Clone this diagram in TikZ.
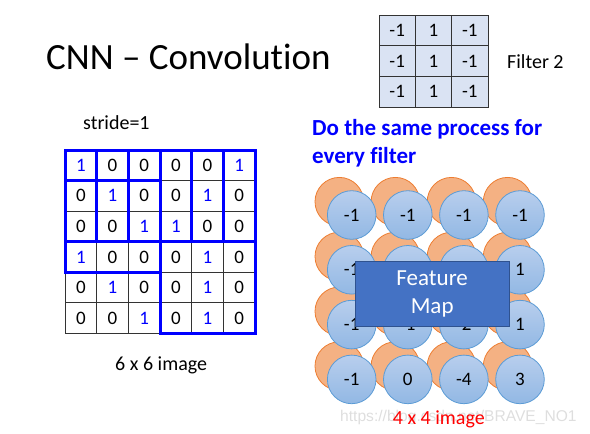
\documentclass[tikz,border=0pt]{standalone}
\usepackage{fontspec}
\setmainfont{Carlito}[Ligatures={TeX,NoCommon}]
\newfontfamily\markfont{Liberation Sans}
\usepackage{tikz}

\definecolor{filterblue}{RGB}{218,227,243}
\definecolor{orangefill}{RGB}{244,177,131}
\definecolor{orangeline}{RGB}{237,125,49}
\definecolor{circtop}{RGB}{184,206,237}
\definecolor{circbot}{RGB}{146,184,228}
\definecolor{circline}{RGB}{91,155,213}
\definecolor{mapfill}{RGB}{68,114,196}
\definecolor{mapline}{RGB}{47,82,143}

\tikzstyle{cell} = [rectangle, minimum width=31.67pt, minimum height=30.55pt, inner sep=0pt, outer sep=0pt, draw=black!80, line width=0.8pt, font=\fontsize{19}{22}\selectfont]
\tikzstyle{fcell} = [rectangle, minimum width=36.33pt, minimum height=30.67pt, inner sep=0pt, outer sep=0pt, draw=black!80, fill=filterblue, line width=0.8pt, font=\fontsize{19}{22}\selectfont]
\tikzstyle{window} = [draw=blue, line width=3pt]
\tikzstyle{orangecirc} = [circle, minimum size=48.6pt, inner sep=0pt, fill=orangefill, draw=orangeline, line width=0.8pt]
\tikzstyle{bluecirc} = [circle, minimum size=48.6pt, inner sep=0pt, top color=circtop, bottom color=circbot, draw=circline, line width=0.8pt, font=\fontsize{19}{22}\selectfont]
\tikzstyle{mapbox} = [rectangle, minimum width=154pt, minimum height=65pt, fill=mapfill, draw=mapline, line width=0.8pt, text=white, align=center, font=\fontsize{23}{28}\selectfont]
\tikzstyle{label} = [inner sep=0pt, anchor=base west, font=\fontsize{20}{24}\selectfont]

\begin{document}
\begin{tikzpicture}[x=1pt, y=-1pt]
      \useasboundingbox (0,0) rectangle (590,434);

      \node (title) [label, font=\fontsize{37}{40}\selectfont] at (46,69.3) {CNN -- Convolution};
      \node (stride) [label] at (83,129.3) {stride=1};
      \node (filtername) [label] at (507,68.5) {Filter 2};
      \node (note) [inner sep=0pt, anchor=west, align=left, text=blue, font=\bfseries\fontsize{23}{28}\selectfont] at (312,143.5) {Do the same process for\\every filter};

      % filter 2
      \foreach \row [count=\i] in {{-1,1,-1},{-1,1,-1},{-1,1,-1}} {
        \foreach \v [count=\j] in \row {
          \node (f-\i-\j) [fcell] at ({379+36.33*(\j-0.5)}, {15+30.67*(\i-0.5)}) {\v};
        }
      }

      % 6 x 6 image
      \foreach \row [count=\i] in {{1,0,0,0,0,1},{0,1,0,0,1,0},{0,0,1,1,0,0},{1,0,0,0,1,0},{0,1,0,0,1,0},{0,0,1,0,1,0}} {
        \foreach \v [count=\j] in \row {
          \node (g-\i-\j) [cell] at ({65+31.67*(\j-0.5)}, {150+30.55*(\i-0.5)}) {\ifnum\v=1 \color{blue}\fi\v};
        }
      }
      \foreach \c/\d in {1/3,2/4,3/5,4/6}
        \draw [window] (g-1-\c.north west) rectangle (g-3-\d.south east);
      \draw [window] (g-2-1.north west) rectangle (g-4-3.south east);
      \draw [window] (g-4-4.north west) rectangle (g-6-6.south east);
      \node (imgname) [label] at (115,370.7) {6 x 6 image};

      % feature map (values under the box are hidden)
      \foreach \i in {1,...,4}
        \foreach \j in {1,...,4}
          \node (o-\i-\j) [orangecirc] at ({339.3+56.1*(\j-1)}, {201.7+54.8*(\i-1)}) {};
      \foreach \row [count=\i] in {{-1,-1,-1,-1},{-1,{},{},1},{-1,-1,-2,1},{-1,0,-4,3}} {
        \foreach \v [count=\j] in \row {
          \node (b-\i-\j) [bluecirc] at ({351.7+56.1*(\j-1)}, {215+54.8*(\i-1)}) {\v};
        }
      }
      \node (map) [mapbox] at (432.2,293.5) {Feature\\Map};

      \node (mark) [label, text=black!13, font=\markfont\fontsize{15.6}{18}\selectfont] at (340,421) {https://blog.csdn.net/BRAVE\_NO1};
      \node (mapname) [label, text=red] at (392.7,424.3) {4 x 4 image};
\end{tikzpicture}
\end{document}
